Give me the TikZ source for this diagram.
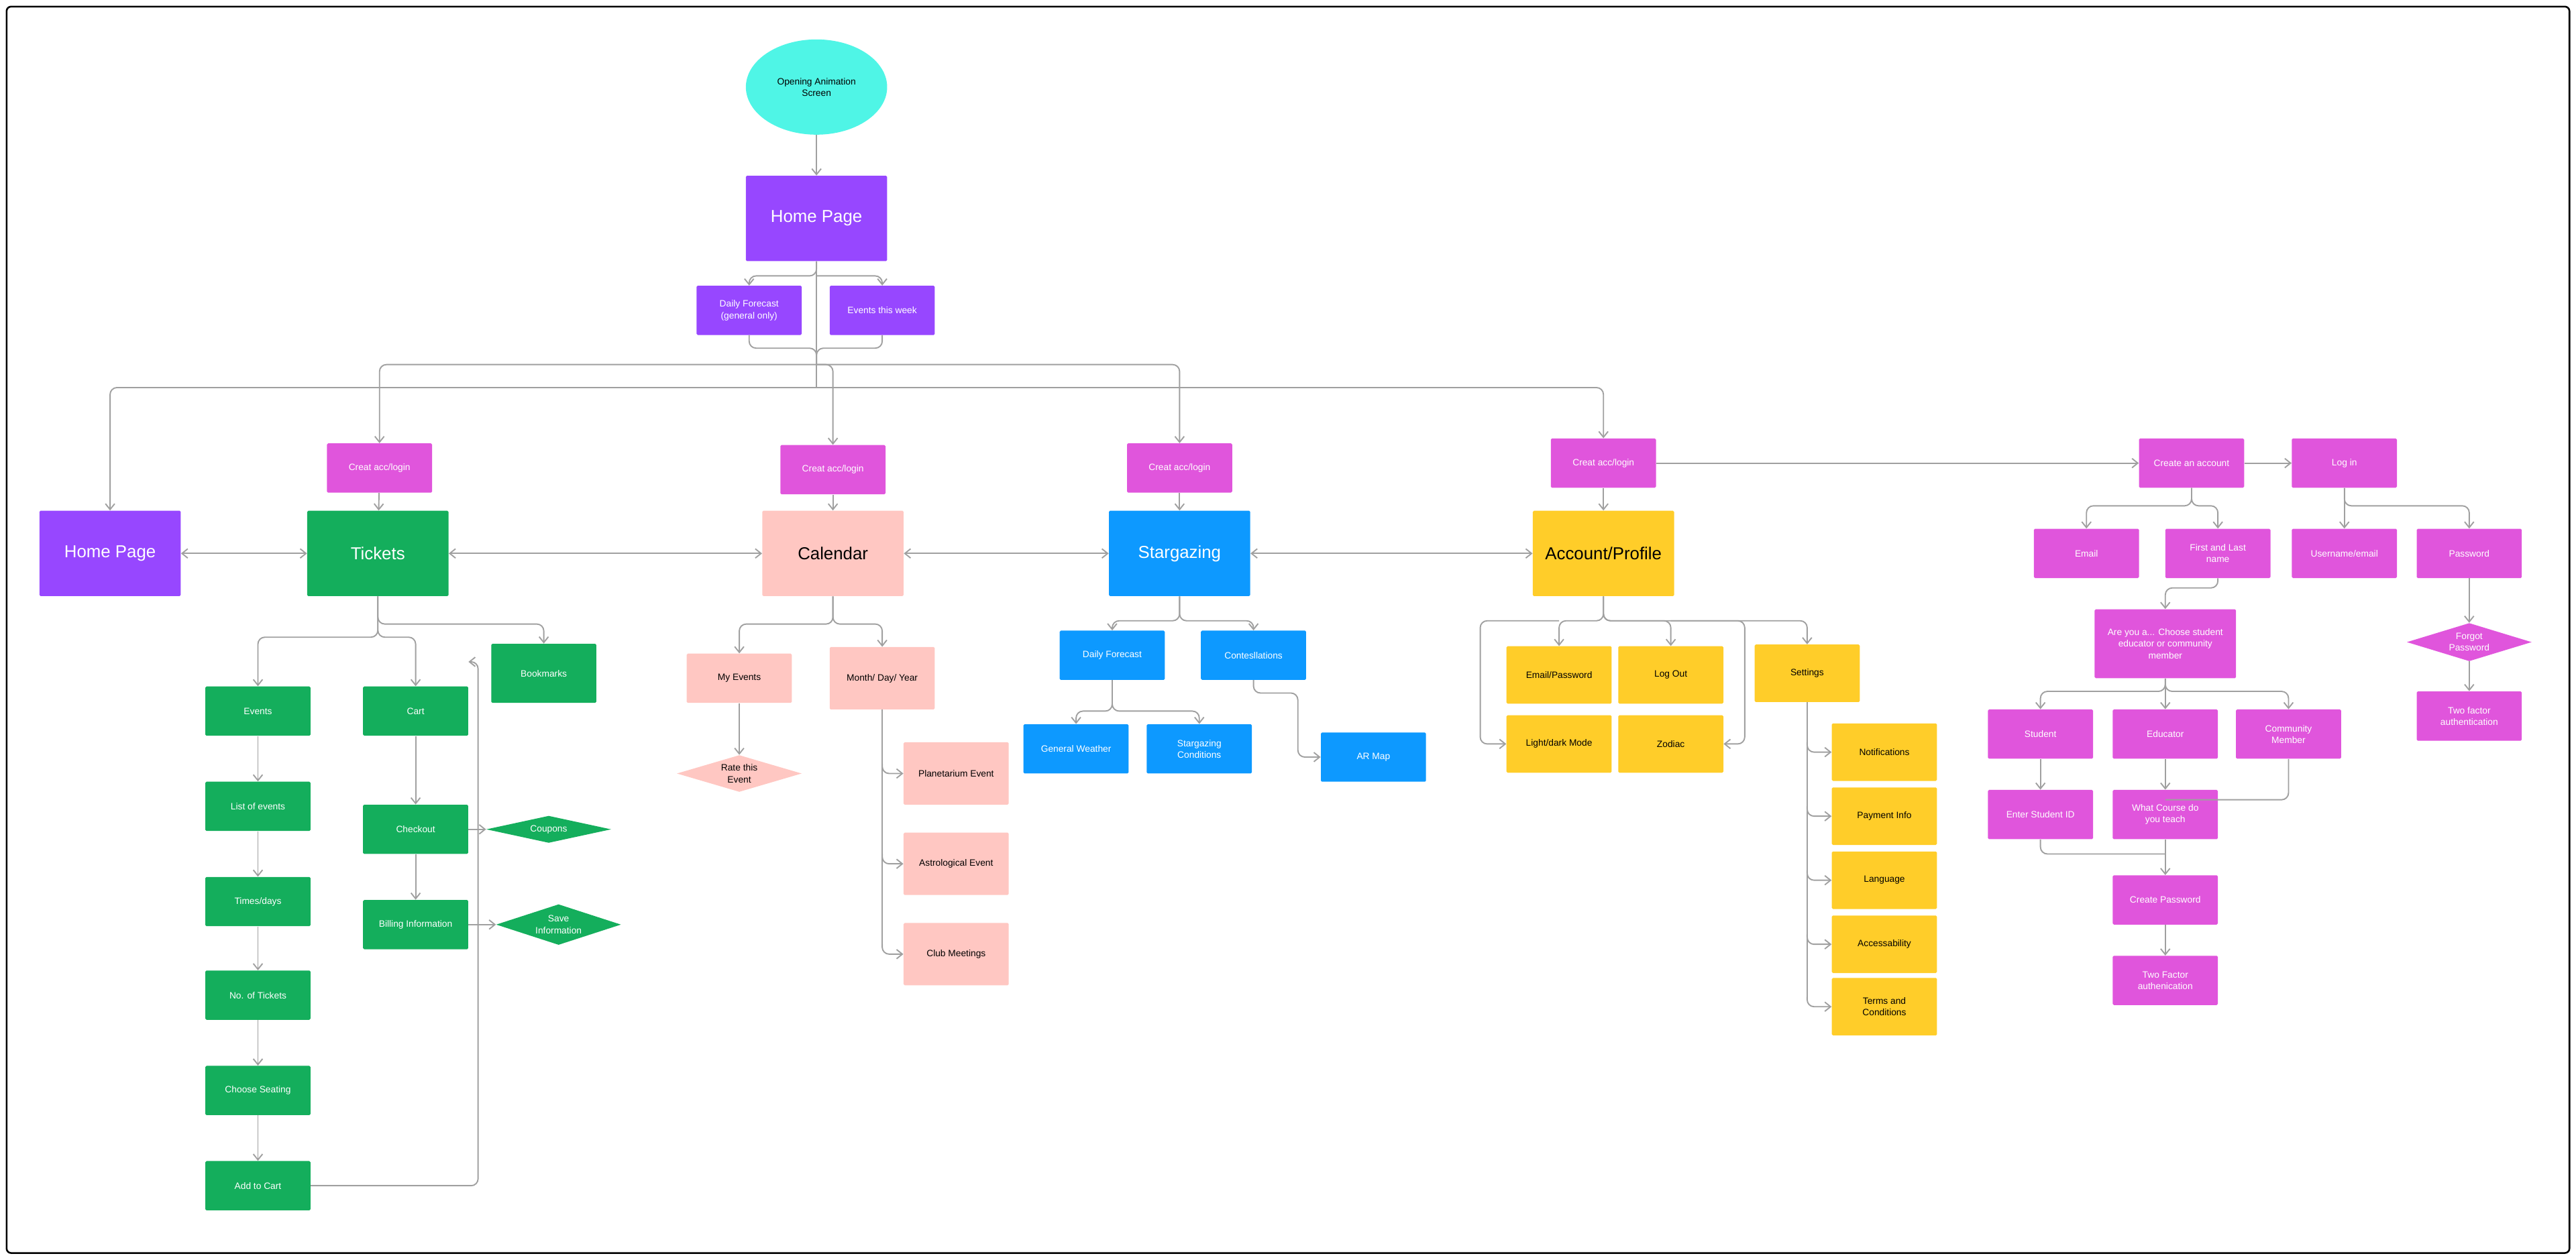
\documentclass[tikz,border=0pt]{standalone}
\usepackage{fontspec}
\setmainfont{Liberation Sans}
\usetikzlibrary{shapes, arrows, positioning, arrows.meta, calc}
\definecolor{cpurple}{HTML}{9747FF}
\definecolor{ccyan}{HTML}{4FF5E6}
\definecolor{cmag}{HTML}{E055DC}
\definecolor{cgreen}{HTML}{14AE5C}
\definecolor{cpink}{HTML}{FFC7C2}
\definecolor{cblue}{HTML}{0D99FF}
\definecolor{cyellow}{HTML}{FFCD29}
\definecolor{cline}{HTML}{A0A0A0}
\tikzset{
  box/.style={rectangle, rounded corners=1pt, minimum width=3.2cm, minimum height=1.5cm,
    align=center, font=\fontsize{8}{10}\selectfont, inner sep=2pt},
  bigbox/.style={box, minimum width=4.3cm, minimum height=2.6cm, font=\fontsize{15}{17}\selectfont},
  dia/.style={diamond, aspect=2.4, inner sep=1pt, align=center, font=\fontsize{8}{10}\selectfont, minimum width=3.8cm},
  wt/.style={text=white},
  arr/.style={-{Straight Barb[length=5pt,width=8pt]}, draw=cline, line width=1.1pt, rounded corners=6pt},
  ln/.style={draw=cline, line width=1.1pt, rounded corners=6pt},
}
\begin{document}
\begin{tikzpicture}[x=0.05cm, y=-0.05cm]
  \useasboundingbox (0,0) rectangle (1568,767);
  \draw[line width=1.5pt, rounded corners=4pt] (4,4) rectangle (1564,763);

  % top
  \node[ellipse, fill=ccyan, minimum width=4.3cm, minimum height=2.9cm, align=center, font=\fontsize{8}{10}\selectfont] (anim) at (497,53) {Opening Animation\\Screen};
  \node[bigbox, fill=cpurple, wt] (home) at (497,133) {Home Page};
  \node[box, fill=cpurple, wt] (daily) at (456,189) {Daily Forecast\\(general only)};
  \node[box, fill=cpurple, wt] (week) at (537,189) {Events this week};

  % main row
  \node[bigbox, fill=cpurple, wt] (home2) at (67,337) {Home Page};
  \node[bigbox, fill=cgreen, wt] (tickets) at (230,337) {Tickets};
  \node[bigbox, fill=cpink] (calendar) at (507,337) {Calendar};
  \node[bigbox, fill=cblue, wt] (star) at (718,337) {Stargazing};
  \node[bigbox, fill=cyellow] (account) at (976,337) {Account/Profile};
  \node[box, fill=cmag, wt] (login1) at (231,285) {Creat acc/login};
  \node[box, fill=cmag, wt] (login2) at (507,286) {Creat acc/login};
  \node[box, fill=cmag, wt] (login3) at (718,285) {Creat acc/login};
  \node[box, fill=cmag, wt] (login4) at (976,282) {Creat acc/login};

  % tickets
  \node[box, fill=cgreen, wt] (events) at (157,433) {Events};
  \node[box, fill=cgreen, wt] (list) at (157,491) {List of events};
  \node[box, fill=cgreen, wt] (times) at (157,549) {Times/days};
  \node[box, fill=cgreen, wt] (notickets) at (157,606) {No. of Tickets};
  \node[box, fill=cgreen, wt] (seating) at (157,664) {Choose Seating};
  \node[box, fill=cgreen, wt] (addcart) at (157,722) {Add to Cart};
  \node[box, fill=cgreen, wt] (cart) at (253,433) {Cart};
  \node[box, fill=cgreen, wt] (checkout) at (253,505) {Checkout};
  \node[box, fill=cgreen, wt] (billing) at (253,563) {Billing Information};
  \node[box, fill=cgreen, wt, minimum height=1.8cm] (bookmarks) at (331,410) {Bookmarks};
  \node[dia, fill=cgreen, wt] (coupons) at (334,505) {Coupons};
  \node[dia, fill=cgreen, wt] (save) at (340,563) {Save\\Information};

  % calendar
  \node[box, fill=cpink] (myevents) at (450,413) {My Events};
  \node[dia, fill=cpink] (rate) at (450,471) {Rate this\\Event};
  \node[box, fill=cpink, minimum height=1.9cm] (month) at (537,413) {Month/ Day/ Year};
  \node[box, fill=cpink, minimum height=1.9cm] (planet) at (582,471) {Planetarium Event};
  \node[box, fill=cpink, minimum height=1.9cm] (astro) at (582,526) {Astrological Event};
  \node[box, fill=cpink, minimum height=1.9cm] (club) at (582,581) {Club Meetings};

  % stargazing
  \node[box, fill=cblue, wt] (dailyf) at (677,399) {Daily Forecast};
  \node[box, fill=cblue, wt] (constel) at (763,399) {Contesllations};
  \node[box, fill=cblue, wt] (general) at (655,456) {General Weather};
  \node[box, fill=cblue, wt] (cond) at (730,456) {Stargazing\\Conditions};
  \node[box, fill=cblue, wt] (ar) at (836,461) {AR Map};

  % account
  \node[box, fill=cyellow, minimum height=1.75cm] (emailpw) at (949,411) {Email/Password};
  \node[box, fill=cyellow, minimum height=1.75cm] (logout) at (1017,411) {Log Out};
  \node[box, fill=cyellow, minimum height=1.75cm] (light) at (949,453) {Light/dark Mode};
  \node[box, fill=cyellow, minimum height=1.75cm] (zodiac) at (1017,453) {Zodiac};
  \node[box, fill=cyellow, minimum height=1.75cm] (settings) at (1100,410) {Settings};
  \node[box, fill=cyellow, minimum height=1.75cm] (notif) at (1147,458) {Notifications};
  \node[box, fill=cyellow, minimum height=1.75cm] (payment) at (1147,497) {Payment Info};
  \node[box, fill=cyellow, minimum height=1.75cm] (lang) at (1147,536) {Language};
  \node[box, fill=cyellow, minimum height=1.75cm] (access) at (1147,575) {Accessability};
  \node[box, fill=cyellow, minimum height=1.75cm] (terms) at (1147,613) {Terms and\\Conditions};

  % sign up / log in
  \node[box, fill=cmag, wt] (createacc) at (1334,282) {Create an account};
  \node[box, fill=cmag, wt] (login5) at (1427,282) {Log in};
  \node[box, fill=cmag, wt] (email) at (1270,337) {Email};
  \node[box, fill=cmag, wt] (firstlast) at (1350,337) {First and Last\\name};
  \node[box, fill=cmag, wt] (username) at (1427,337) {Username/email};
  \node[box, fill=cmag, wt] (password) at (1503,337) {Password};
  \node[box, fill=cmag, wt, minimum width=4.3cm, minimum height=2.1cm] (areyou) at (1318,392) {Are you a... Choose student\\educator or community\\member};
  \node[dia, fill=cmag, wt] (forgot) at (1503,391) {Forgot\\Password};
  \node[box, fill=cmag, wt] (twofa1) at (1503,436) {Two factor\\authentication};
  \node[box, fill=cmag, wt] (student) at (1242,447) {Student};
  \node[box, fill=cmag, wt] (educator) at (1318,447) {Educator};
  \node[box, fill=cmag, wt] (community) at (1393,447) {Community\\Member};
  \node[box, fill=cmag, wt] (studentid) at (1242,496) {Enter Student ID};
  \node[box, fill=cmag, wt] (course) at (1318,496) {What Course do\\you teach};
  \node[box, fill=cmag, wt] (createpw) at (1318,548) {Create Password};
  \node[box, fill=cmag, wt] (twofa2) at (1318,597) {Two Factor\\authenication};

  % top connectors
  \draw[arr] (anim) -- (home);
  \draw[arr] (home.south) -- (497,168) -| (daily.north);
  \draw[arr] (497,168) -| (week.north);
  \draw[ln] (daily.south) -- (456,212) -| (497,222);
  \draw[ln] (week.south) -- (537,212) -| (497,222);
  \draw[ln] (home.south) -- (497,236);
  \draw[arr] (497,236) -| (home2.north);
  \draw[arr] (497,222) -| (login1.north);
  \draw[arr] (497,222) -| (login2.north);
  \draw[arr] (497,222) -| (login3.north);
  \draw[arr] (497,236) -| (login4.north);
  \foreach \a/\b in {login1/tickets, login2/calendar, login3/star, login4/account}
    \draw[arr] (\a) -- (\b);
  \foreach \a/\b in {home2/tickets, tickets/calendar, calendar/star, star/account}
    \draw[{Straight Barb[length=5pt,width=8pt]}-{Straight Barb[length=5pt,width=8pt]}, draw=cline, line width=1.1pt] (\a) -- (\b);
  \draw[arr] (login4) -- (createacc);
  \draw[arr] (createacc) -- (login5);

  % tickets connectors
  \draw[arr] (tickets.south) |- (157,388) -- (events.north);
  \draw[arr] (tickets.south) |- (253,388) -- (cart.north);
  \draw[arr] (tickets.south) |- (331,380) -- (bookmarks.north);
  \foreach \a/\b in {events/list, list/times, times/notickets, notickets/seating, seating/addcart, cart/checkout, checkout/billing, checkout/coupons, billing/save}
    \draw[arr] (\a) -- (\b);
  \draw[arr] (addcart.east) -| (291,403) -- (cart.north east |- 0,403);

  % calendar connectors
  \draw[arr] (calendar.south) |- (450,380) -- (myevents.north);
  \draw[arr] (calendar.south) |- (537,380) -- (month.north);
  \draw[arr] (myevents) -- (rate);
  \draw[ln] (month.south) -- (537,575);
  \foreach \n in {planet, astro, club}
    \draw[arr] (537,0 |- \n.west) ++(0,-6) -- ++(0,6) -- (\n.west);

  % stargazing connectors
  \draw[arr] (star.south) |- (677,378) -- (dailyf.north);
  \draw[arr] (star.south) |- (763,378) -- (constel.north);
  \draw[arr] (dailyf.south) |- (655,433) -- (general.north);
  \draw[arr] (dailyf.south) |- (730,433) -- (cond.north);
  \draw[arr] (constel.south) -- (763,422) -| (790,461) -- (ar.west);

  % account connectors
  \draw[arr] (account.south) |- (949,378) -- (emailpw.north);
  \draw[arr] (account.south) |- (1017,378) -- (logout.north);
  \draw[arr] (account.south) |- (1100,378) -- (settings.north);
  \draw[arr] (949,378) -| (901,453) -- (light.west);
  \draw[arr] (1017,378) -| (1062,453) -- (zodiac.east);
  \draw[ln] (settings.south) -- (1100,607);
  \foreach \n in {notif, payment, lang, access, terms}
    \draw[arr] (1100,0 |- \n.west) ++(0,-6) -- ++(0,6) -- (\n.west);

  % sign up / log in connectors
  \draw[arr] (createacc.south) |- (1270,308) -- (email.north);
  \draw[arr] (createacc.south) |- (1350,308) -- (firstlast.north);
  \draw[arr] (login5.south) |- (1427,308) -- (username.north);
  \draw[arr] (login5.south) |- (1503,308) -- (password.north);
  \draw[arr] (firstlast.south) |- (1318,358) -- (areyou.north);
  \draw[arr] (areyou.south) |- (1242,421) -- (student.north);
  \draw[arr] (areyou.south) -- (educator.north);
  \draw[arr] (areyou.south) |- (1393,421) -- (community.north);
  \draw[arr] (password) -- (forgot);
  \draw[arr] (forgot) -- (twofa1);
  \draw[arr] (student) -- (studentid);
  \draw[arr] (educator) -- (course);
  \draw[ln] (community.south) |- (1318,487);
  \draw[ln] (studentid.south) |- (1318,520);
  \draw[arr] (course.south) -- (createpw.north);
  \draw[arr] (createpw) -- (twofa2);
\end{tikzpicture}
\end{document}
